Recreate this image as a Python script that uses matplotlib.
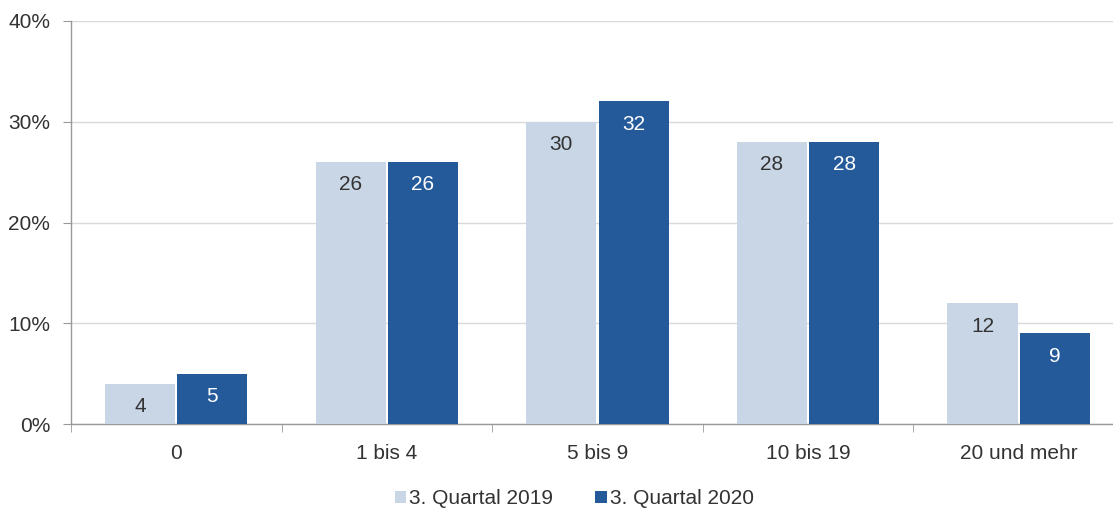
import numpy as np
import matplotlib.pyplot as plt
from matplotlib.ticker import PercentFormatter, FixedLocator

plt.rcParams['font.family'] = ['Liberation Sans', 'DejaVu Sans']

categories = ['0', '1 bis 4', '5 bis 9', '10 bis 19', '20 und mehr']
series_names = ['3. Quartal 2019', '3. Quartal 2020']
q3_2019 = [4, 26, 30, 28, 12]
q3_2020 = [5, 26, 32, 28, 9]

light = '#c9d6e6'
dark = '#255a9a'
text_col = '#333333'
fs = 15

fig = plt.figure(figsize=(11.13, 5.08), dpi=100)
ax = fig.add_axes([0.0638, 0.165, 0.946, 0.794])

x = np.arange(len(categories))
w = 0.333
gap = 0.005
b1 = ax.bar(x - w / 2 - gap, q3_2019, w, color=light, label=series_names[0], zorder=3)
b2 = ax.bar(x + w / 2 + gap, q3_2020, w, color=dark, label=series_names[1], zorder=3)

for bars, vals, col in [(b1, q3_2019, text_col), (b2, q3_2020, 'white')]:
    for r, v in zip(bars, vals):
        ax.annotate(str(v), (r.get_x() + r.get_width() / 2, r.get_height()),
                    xytext=(0, -16.5), textcoords='offset points',
                    ha='center', va='center', fontsize=fs, color=col, zorder=4)

ax.set_xlim(-0.5, len(categories) - 0.5)
ax.set_ylim(0, 40)
ax.yaxis.set_major_locator(FixedLocator([0, 10, 20, 30, 40]))
ax.yaxis.set_major_formatter(PercentFormatter(decimals=0))
ax.grid(axis='y', color='#d9d9d9', linewidth=1, zorder=0)

ax.set_xticks(x)
ax.set_xticklabels(categories)
ax.set_xticks(np.arange(len(categories) + 1) - 0.5, minor=True)
ax.tick_params(axis='x', which='major', length=0, pad=14, labelsize=fs, labelcolor=text_col)
ax.tick_params(axis='x', which='minor', length=6, color='#999999', direction='out')
ax.tick_params(axis='y', length=6, color='#999999', labelsize=fs, labelcolor=text_col, pad=9)

for s in ['top', 'right']:
    ax.spines[s].set_visible(False)
for s in ['left', 'bottom']:
    ax.spines[s].set_color('#999999')
    ax.spines[s].set_linewidth(1)

ax.legend(loc='upper center', bbox_to_anchor=(0.478, -0.125), ncol=2, frameon=False,
          fontsize=fs, labelcolor=text_col, handlelength=0.55, handleheight=0.55,
          handletextpad=0.15, columnspacing=2.0, borderpad=0.2)

fig.savefig('out.png', dpi=100)
